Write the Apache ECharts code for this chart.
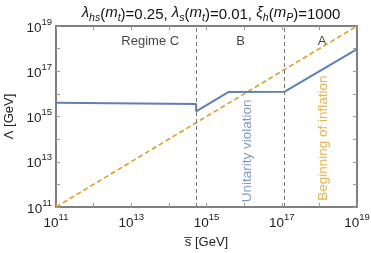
<!DOCTYPE html>
<html><head><meta charset="utf-8">
<script src="https://cdn.jsdelivr.net/npm/echarts@6/dist/echarts.min.js"></script>
<style>html,body{margin:0;padding:0;background:#fff}#c{width:371px;height:253px}</style>
</head><body><div id="c"></div>
<script>
// Data
var unitarityS = [1e11, 5.3e14, 5.3e14, 3.8e15, 1.2e17, 1e19];
var unitarityL = [4.1e15, 3.6e15, 1.7e15, 1.2e16, 1.25e16, 9.5e17];
var inflationS = [1e11, 1e19];
var inflationL = [1e11, 1e19];
var regimeBounds = [5.3e14, 1.2e17];
var regimeLabels = [
  {name: 'Regime C', s: 3.2e13, l: 2.0e18},
  {name: 'B', s: 8.0e15, l: 2.0e18},
  {name: 'A', s: 1.18e18, l: 2.0e18}
];
var curveLabels = [
  {name: 'Unitarity violation', s: 1.2e16, l: 3.0e13, color: '#5E81B5'},
  {name: 'Beginning of inflation', s: 1.26e18, l: 1.1e14, color: '#E19C24'}
];
var tickExps = [11, 13, 15, 17, 19];

var font = 'Liberation Sans';
function pair(xs, ys){ return xs.map(function(x,i){return [x, ys[i]];}); }
function supLabel(v){
  var e = Math.round(Math.log10(v));
  if (tickExps.indexOf(e) < 0) return '';
  return '{b|10}{e|' + e + '}';
}
var rich = {
  b: {fontSize: 13.5, fontFamily: font, color: '#222', lineHeight: 18, verticalAlign: 'bottom'},
  e: {fontSize: 9.5, fontFamily: font, color: '#222', lineHeight: 18, verticalAlign: 'top'}
};
var axisCommon = {
  type: 'log', logBase: 10, min: 1e11, max: 1e19, interval: 1,
  axisLine: {show: true, lineStyle: {color: '#555', width: 1.5}},
  axisTick: {show: true, inside: true, length: 4, lineStyle: {color: '#999'}},
  splitLine: {show: false}, minorTick: {show: false}
};
var chart = echarts.init(document.getElementById('c'), null, {renderer: 'canvas'});
chart.setOption({
  animation: false,
  title: {
    text: '{i|λ}{s|hs}({i|m}{s|t})=0.25, {i|λ}{s|s}({i|m}{s|t})=0.01, {i|ξ}{s|h}({i|m}{s|P})=1000',
    left: 206, top: 0, textAlign: 'center',
    textStyle: {
      rich: {
        i: {fontSize: 15, fontStyle: 'italic', fontWeight: 'normal', fontFamily: font, color: '#111', lineHeight: 19, verticalAlign: 'top'},
        s: {fontSize: 10.5, fontStyle: 'italic', fontWeight: 'normal', fontFamily: font, color: '#111', lineHeight: 19, verticalAlign: 'bottom'}
      },
      fontSize: 15, fontWeight: 'normal', fontFamily: font, color: '#111', lineHeight: 19
    }
  },
  grid: {left: 56, right: 14, top: 26, bottom: 46, outerBoundsMode: 'none', containLabel: false},
  xAxis: [
    Object.assign({}, axisCommon, {
      name: 's\u0305 [GeV]', nameLocation: 'middle', nameGap: 29,
      nameTextStyle: {fontSize: 13, fontFamily: font, color: '#222'},
      axisLabel: {formatter: supLabel, rich: rich, margin: 5}
    }),
    Object.assign({}, axisCommon, {position: 'top', axisLabel: {show: false}})
  ],
  yAxis: [
    Object.assign({}, axisCommon, {
      name: 'Λ [GeV]', nameLocation: 'middle', nameGap: 40,
      nameTextStyle: {fontSize: 13, fontFamily: font, color: '#222'},
      axisLabel: {formatter: supLabel, rich: rich, margin: 4}
    }),
    Object.assign({}, axisCommon, {position: 'right', axisLabel: {show: false}})
  ],
  series: [
    {
      type: 'line', data: pair(inflationS, inflationL), symbol: 'none',
      lineStyle: {color: '#E19C24', width: 1.6, type: [5, 3]}, z: 3
    },
    {
      type: 'line', data: pair(unitarityS, unitarityL), symbol: 'none',
      lineStyle: {color: '#5E81B5', width: 2}, z: 4,
      markLine: {
        silent: true, symbol: 'none', label: {show: false},
        lineStyle: {color: '#777', width: 1, type: [4, 3]},
        data: regimeBounds.map(function(v){return {xAxis: v};})
      }
    },
    {
      type: 'scatter', symbolSize: 0, silent: true,
      data: regimeLabels.map(function(r){return {name: r.name, value: [r.s, r.l]};}),
      label: {show: true, position: 'inside', formatter: '{b}', fontSize: 13, fontFamily: font, color: '#111'}
    },
    {
      type: 'scatter', symbolSize: 0, silent: true,
      data: curveLabels.map(function(r){return {name: r.name, value: [r.s, r.l],
        label: {color: r.color}};}),
      label: {show: true, position: 'inside', rotate: 90, formatter: '{b}', fontSize: 13.5, fontFamily: font}
    }
  ]
});
</script></body></html>
